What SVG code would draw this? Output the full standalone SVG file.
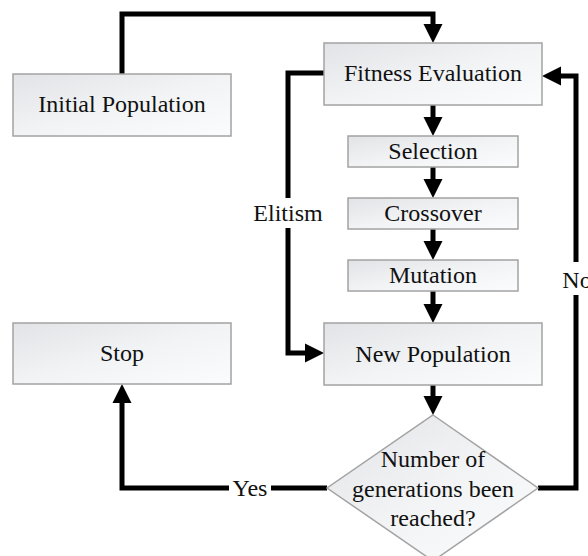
<svg xmlns="http://www.w3.org/2000/svg" width="588" height="556" viewBox="0 0 588 556">
  <style>
    .box { fill: url(#g); stroke: #a3a3a3; stroke-width: 1.5; }
    .t { font-family: 'Liberation Serif', 'Times New Roman', serif; font-size: 24px; fill: #111; text-anchor: middle; }
    .c { fill: none; stroke: #000; stroke-width: 5; stroke-linejoin: miter; stroke-linecap: butt; }
    .a { marker-end: url(#ah); }
  </style>
  <defs>
    <linearGradient id="g" x1="0" y1="0" x2="1" y2="1">
      <stop offset="0" stop-color="#e2e3e6"/>
      <stop offset="0.5" stop-color="#f1f3f5"/>
      <stop offset="1" stop-color="#fafcfd"/>
    </linearGradient>
    <marker id="ah" viewBox="0 0 20 20" refX="9" refY="10" markerWidth="20" markerHeight="20" markerUnits="userSpaceOnUse" orient="auto">
      <path d="M0,0.5 L19,10 L0,19.5 z" fill="#000"/>
    </marker>
  </defs>

  <g id="connectors">
    <path class="c a" d="M122,74 V14 H433 V33"/>
    <path class="c a" d="M433,105 V126"/>
    <path class="c a" d="M433,167 V188"/>
    <path class="c a" d="M433,229 V250"/>
    <path class="c a" d="M433,291 V313"/>
    <path class="c a" d="M433,385 V405"/>
    <path class="c" d="M324,73 H288 V198"/>
    <path class="c a" d="M288,228 V353 H314"/>
    <path class="c" d="M538,488 H576 V295"/>
    <path class="c a" d="M576,262 V76 H552"/>
    <path class="c" d="M327,488 H271"/>
    <path class="c a" d="M229,488 H122 V394"/>
    <text class="t" x="288" y="221">Elitism</text>
    <text class="t" x="577" y="288">No</text>
    <text class="t" x="250" y="496">Yes</text>
  </g>

  <g id="initial-population">
    <rect class="box" x="13" y="74" width="218" height="62"/>
    <text class="t" x="122" y="112">Initial Population</text>
  </g>
  <g id="fitness-evaluation">
    <rect class="box" x="324" y="43" width="218" height="62"/>
    <text class="t" x="433" y="81">Fitness Evaluation</text>
  </g>
  <g id="selection">
    <rect class="box" x="348" y="136" width="170" height="31"/>
    <text class="t" x="433" y="159">Selection</text>
  </g>
  <g id="crossover">
    <rect class="box" x="348" y="198" width="170" height="31"/>
    <text class="t" x="433" y="221">Crossover</text>
  </g>
  <g id="mutation">
    <rect class="box" x="348" y="260" width="170" height="31"/>
    <text class="t" x="433" y="283">Mutation</text>
  </g>
  <g id="new-population">
    <rect class="box" x="324" y="323" width="218" height="62"/>
    <text class="t" x="433" y="362">New Population</text>
  </g>
  <g id="stop">
    <rect class="box" x="13" y="323" width="218" height="61"/>
    <text class="t" x="122" y="361">Stop</text>
  </g>
  <g id="decision">
    <polygon class="box" points="433,415 538,488 433,561 327,488"/>
    <text class="t" x="433" y="467">Number of</text>
    <text class="t" x="433" y="497">generations been</text>
    <text class="t" x="433" y="526">reached?</text>
  </g>
</svg>
